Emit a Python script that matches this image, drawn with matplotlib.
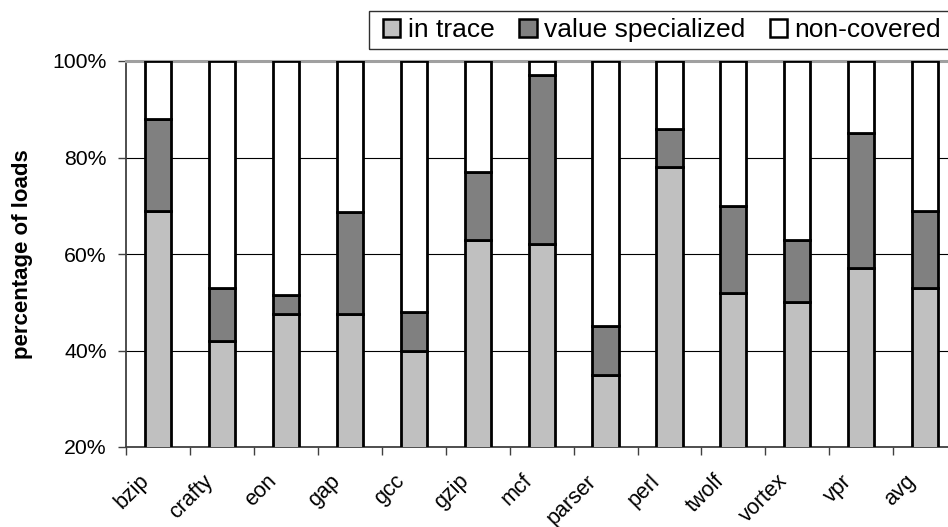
import matplotlib
matplotlib.use("Agg")
import matplotlib.pyplot as plt
import matplotlib.transforms as mtransforms
from matplotlib.patches import Rectangle, Patch
import numpy as np

plt.rcParams['font.family'] = ['Liberation Sans', 'DejaVu Sans']

categories = ["bzip", "crafty", "eon", "gap", "gcc", "gzip", "mcf", "parser",
              "perl", "twolf", "vortex", "vpr", "avg"]
in_trace = [69, 42, 47.5, 47.5, 40, 63, 62, 35, 78, 52, 50, 57, 53]
value_specialized = [19, 11, 4, 21.2, 8, 14, 35, 10, 8, 18, 13, 28, 16]
non_covered = [100 - a - b for a, b in zip(in_trace, value_specialized)]
series_names = ["in trace", "value specialized", "non-covered"]
series_colors = ["#C0C0C0", "#808080", "#FFFFFF"]
ytick_values = [20, 40, 60, 80, 100]
ytick_labels = ["20%", "40%", "60%", "80%", "100%"]

W, H = 948, 527
fig = plt.figure(figsize=(W / 100, H / 100), dpi=100)
ax = fig.add_axes([126.3 / W, 1 - 447 / H, 830.7 / W, 386 / H])

x = np.arange(len(categories))
bottom = np.zeros(len(categories))
for vals, name, col in zip([in_trace, value_specialized, non_covered], series_names, series_colors):
    ax.bar(x, vals, width=0.41, bottom=bottom, color=col, edgecolor="black",
           linewidth=2.0, zorder=3, label=name)
    bottom = bottom + np.array(vals)

ax.set_xlim(-0.5, len(categories) - 0.5)
ax.set_ylim(20, 100)
ax.set_yticks(ytick_values)
ax.set_yticklabels(ytick_labels, fontsize=15.3)
ax.yaxis.grid(True, color="black", linewidth=0.8, zorder=0)
ax.set_axisbelow(True)
ax.tick_params(axis="y", direction="out", length=6, width=1, pad=8, color="#404040")

# category labels at centers, tick marks at boundaries
ax.set_xticks(x)
ax.set_xticklabels(categories, fontsize=15.5, rotation=45, ha="right")
ax.tick_params(axis="x", which="major", length=0, pad=17)
ax.set_xticks(np.arange(len(categories) + 1) - 0.5, minor=True)
ax.tick_params(axis="x", which="minor", direction="out", length=6, width=1, color="#404040")
offset = mtransforms.ScaledTranslation(-0.05, 0, fig.dpi_scale_trans)
for lab in ax.get_xticklabels():
    lab.set_transform(lab.get_transform() + offset)

ax.spines["top"].set_color("#A0A0A0")
ax.spines["top"].set_linewidth(2.2)
ax.spines["right"].set_color("#A0A0A0")
ax.spines["left"].set_color("#404040")
ax.spines["left"].set_linewidth(1.3)
ax.spines["bottom"].set_color("#404040")
ax.spines["bottom"].set_linewidth(1.3)

ax.set_ylabel("percentage of loads", fontsize=16, fontweight="bold", labelpad=14)

# legend
handles = [Patch(facecolor=c, edgecolor="black", linewidth=1.8) for c in series_colors]
leg = fig.legend(handles, series_names, loc="upper left",
                 bbox_to_anchor=(378 / W, 1 - 13 / H), ncol=3, frameon=False,
                 fontsize=19, handlelength=0.65, handleheight=0.65,
                 handletextpad=0.27, columnspacing=0.95, borderpad=0.2,
                 borderaxespad=0)
fig.patches.append(Rectangle((369.3 / W, 1 - 49 / H), (960 - 369.3) / W, 38.3 / H,
                             transform=fig.transFigure, facecolor="none",
                             edgecolor="#303030", linewidth=1.0))

fig.savefig("out.png", dpi=100)
